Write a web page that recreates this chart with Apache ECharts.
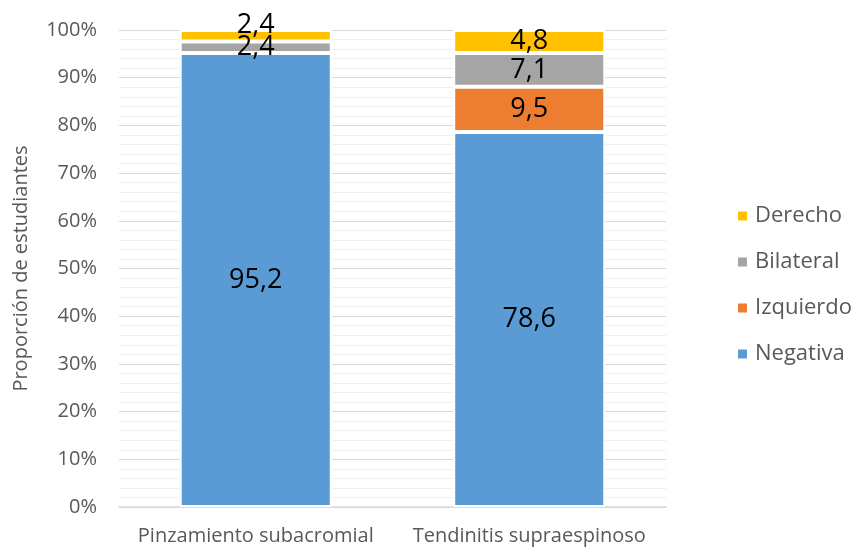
<!DOCTYPE html>
<html>
<head>
<meta charset="utf-8">
<script src="https://cdn.jsdelivr.net/npm/echarts@6/dist/echarts.min.js"></script>
<style>
  html, body { margin: 0; padding: 0; background: #ffffff; }
  #chart { width: 856px; height: 550px; }
</style>
</head>
<body>
<div id="chart"></div>
<script>
// Categories and stacked percentages (Spanish decimal comma in labels)
const categories = ['Pinzamiento subacromial', 'Tendinitis supraespinoso'];
const negativa  = [95.2, 78.6];
const izquierdo = [0, 9.5];
const bilateral = [2.4, 7.1];
const derecho   = [2.4, 4.8];
const yTicks = [0, 10, 20, 30, 40, 50, 60, 70, 80, 90, 100];

const FONT = "'Open Sans', 'Noto Sans', sans-serif";
const fmt = v => v.toFixed(1).replace('.', ',');

function makeSeries(name, values, color, offsets) {
  return {
    name: name,
    type: 'bar',
    stack: 'total',
    barWidth: '55.6%',
    data: values.map((v, i) => {
      const item = { value: v };
      if (offsets && offsets[i]) item.label = { offset: offsets[i] };
      return item;
    }),
    itemStyle: { color: color, borderColor: '#ffffff', borderWidth: 2 },
    label: {
      show: true,
      position: 'inside',
      fontFamily: FONT,
      fontSize: 27,
      color: '#000000',
      formatter: p => (p.value > 0 ? fmt(p.value) : '')
    },
    emphasis: { disabled: true }
  };
}

const chart = echarts.init(document.getElementById('chart'), null, { renderer: 'canvas' });
chart.setOption({
  animation: false,
  backgroundColor: '#ffffff',
  grid: { left: 119, right: 190, top: 30, bottom: 43 },
  legend: {
    orient: 'vertical',
    left: 731,
    top: 200,
    itemGap: 24,
    itemWidth: 11,
    itemHeight: 11,
    icon: 'rect',
    data: ['Derecho', 'Bilateral', 'Izquierdo', 'Negativa'],
    textStyle: { fontFamily: FONT, fontSize: 22, color: '#595959', padding: [0, 0, 0, 2] }
  },
  xAxis: {
    type: 'category',
    data: categories,
    axisLine: { show: true, lineStyle: { color: '#d9d9d9', width: 1.5 } },
    axisTick: { show: false },
    axisLabel: { interval: 0, fontFamily: FONT, fontSize: 20, color: '#595959', margin: 19 }
  },
  yAxis: {
    type: 'value',
    min: yTicks[0],
    max: yTicks[yTicks.length - 1],
    interval: 10,
    name: 'Proporción de estudiantes',
    nameLocation: 'middle',
    nameGap: 88,
    nameRotate: 90,
    nameTextStyle: { fontFamily: FONT, fontSize: 20, color: '#595959' },
    axisLine: { show: false },
    axisTick: { show: false },
    axisLabel: { fontFamily: FONT, fontSize: 20, color: '#595959', margin: 22, formatter: '{value}%' },
    splitLine: { show: true, lineStyle: { color: '#d9d9d9', width: 1 } },
    minorTick: { show: false, splitNumber: 5 },
    minorSplitLine: { show: true, lineStyle: { color: '#efefef', width: 1 } }
  },
  series: [
    makeSeries('Negativa', negativa, '#5B9BD5'),
    makeSeries('Izquierdo', izquierdo, '#ED7D31'),
    makeSeries('Bilateral', bilateral, '#A5A5A5'),
    makeSeries('Derecho', derecho, '#FFC000', [[0, -10], null])
  ]
});
</script>
</body>
</html>
